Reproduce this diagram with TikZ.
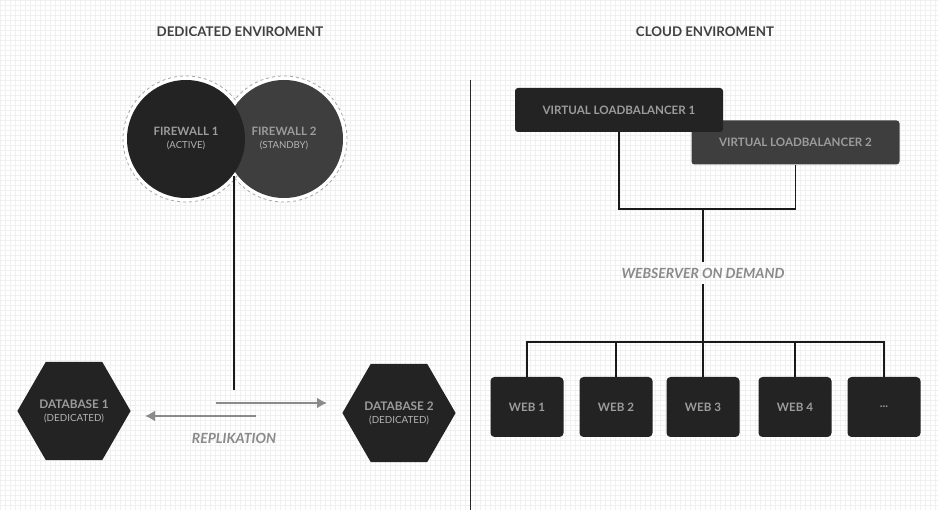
\documentclass[tikz,border=0pt]{standalone}
\usepackage{fontspec}
\setsansfont{Lato}
\usepackage{tikz}
\usetikzlibrary{shapes,shapes.geometric,arrows.meta,positioning,calc}
\definecolor{boxdark}{HTML}{232323}
\definecolor{boxmid}{HTML}{3E3E3E}
\definecolor{labelgray}{HTML}{9C9C9C}
\definecolor{subgray}{HTML}{B4B4B4}
\definecolor{titlegray}{HTML}{404040}
\definecolor{replgray}{HTML}{8A8A8A}
\definecolor{gridgray}{HTML}{F0F0F0}

\begin{document}
\begin{tikzpicture}[x=1pt, y=-1pt,
    title/.style={font=\sffamily\bfseries\fontsize{13.3}{15}\selectfont, text=titlegray},
    fw/.style={circle, minimum size=118pt, inner sep=0pt, align=center, font=\sffamily\fontsize{11.5}{15}\selectfont, text=labelgray},
    ring/.style={circle, minimum size=126pt, draw=gray!70, dashed, fill=white, line width=0.8pt},
    db/.style={regular polygon, regular polygon sides=6, minimum size=112pt, inner sep=0pt, fill=boxdark, align=center, font=\sffamily\fontsize{11.8}{15}\selectfont, text=labelgray},
    vlb/.style={rounded corners=3pt, minimum width=208pt, minimum height=44pt, font=\sffamily\bfseries\fontsize{11.6}{13}\selectfont, text=labelgray},
    web/.style={rounded corners=4pt, fill=boxdark, minimum width=73pt, minimum height=60pt, font=\sffamily\bfseries\fontsize{11.6}{13}\selectfont, text=labelgray},
    note/.style={font=\sffamily\bfseries\itshape\fontsize{14}{16}\selectfont, text=replgray},
    link/.style={draw=black!90, line width=1.6pt},
    repl/.style={draw=replgray, line width=2.6pt, -{Latex[length=10pt,width=11pt]}}
]
    % Background
    \useasboundingbox (0,0) rectangle (938,510);
    \fill[white] (0,0) rectangle (938,510);
    \draw[gridgray, line width=0.35pt, step=5pt] (0,0) grid (938,510);

    % Titles
    \node[title] (ded_title) at (240,32) {DEDICATED ENVIROMENT};
    \node[title] (cloud_title) at (705,32) {CLOUD ENVIROMENT};

    % Divider
    \coordinate (div_top) at (470.5,80);
    \coordinate (div_bot) at (470.5,510);
    \draw[draw=black!85, line width=1.4pt] (div_top) -- (div_bot);

    % Firewalls
    \node[ring] (fw2_ring) at (284,139) {};
    \node[ring] (fw1_ring) at (186,139) {};
    \coordinate (fw_join) at (234,176);
    \coordinate (fw_end) at (234,390);
    \draw[link] (fw_join) -- (fw_end);
    \node[fw, fill=boxmid] (fw2) at (284,139) {\textbf{FIREWALL 2}\\[-2pt]{\fontsize{9.6}{11}\selectfont\color{subgray}(STANDBY)}};
    \node[fw, fill=boxdark] (fw1) at (186,139) {\textbf{FIREWALL 1}\\[-2pt]{\fontsize{9.6}{11}\selectfont\color{subgray}(ACTIVE)}};

    % Databases
    \node[db] (db1) at (74,411) {\textbf{DATABASE 1}\\[-2pt]{\fontsize{9.8}{11}\selectfont\color{subgray}(DEDICATED)}};
    \node[db] (db2) at (399,413) {\textbf{DATABASE 2}\\[-2pt]{\fontsize{9.8}{11}\selectfont\color{subgray}(DEDICATED)}};

    % Replication
    \coordinate (repl_a) at (216,403);
    \coordinate (repl_b) at (327,403);
    \coordinate (repl_c) at (256,416);
    \coordinate (repl_d) at (145,416);
    \draw[repl] (repl_a) -- (repl_b);
    \draw[repl] (repl_c) -- (repl_d);
    \node[note] (repl) at (234,438) {REPLIKATION};

    % Loadbalancers
    \node[vlb, fill=boxmid] (vlb2) at (795.5,142.5) {VIRTUAL LOADBALANCER 2};
    \node[vlb, fill=boxdark] (vlb1) at (619,110) {VIRTUAL LOADBALANCER 1};

    % Webservers
    \node[web] (web1) at (527,407) {WEB 1};
    \node[web] (web2) at (616,407) {WEB 2};
    \node[web] (web3) at (703,407) {WEB 3};
    \node[web] (web4) at (795,407) {WEB 4};
    \node[web] (web5) at (884,407) {...};

    % Links
    \coordinate (lb_join) at (703,209);
    \coordinate (bus) at (703,342);
    \node[note, inner sep=6pt] (demand) at (703,273) {WEBSERVER ON DEMAND};
    \draw[link] (vlb1.south) |- (lb_join) -| (vlb2.south);
    \draw[link] (lb_join) -- (demand.north);
    \draw[link] (demand.south) -- (bus);
    \draw[link] (web1.north) |- (bus) -| (web5.north);
    \foreach \w in {web2,web3,web4}
        \draw[link] (\w.north) -- (\w.north |- bus);

\end{tikzpicture}
\end{document}
